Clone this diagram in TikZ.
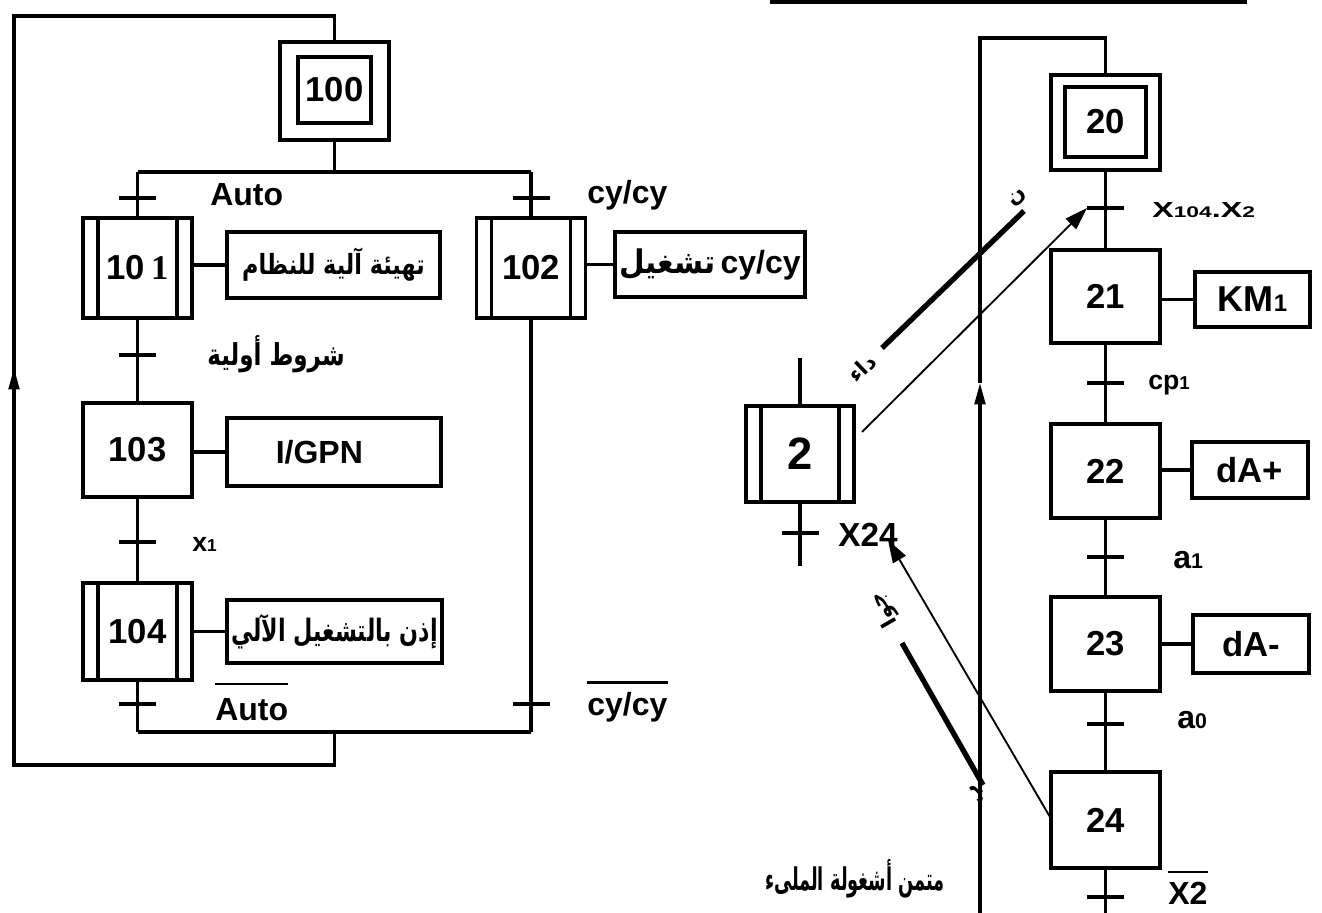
\documentclass[tikz,border=0pt]{standalone}
\usepackage{fontspec}
\usepackage{graphicx}
\setmainfont{Liberation Sans}
\newfontfamily\arabicfont[Script=Arabic]{DejaVu Sans}
\newfontfamily\tnr{Liberation Serif}
\TeXXeTstate=1
\usetikzlibrary{arrows.meta}
\newcommand\ar[1]{{\arabicfont\bfseries\beginR #1\endR}}
\newcommand\fs[1]{\fontsize{#1}{#1}\selectfont}
\newcommand\sbx[2]{{\fs{#1}#2}}
\tikzset{
  ln/.style={line width=2.3pt},
  thin arrow/.style={line width=1.4pt,-{Triangle[length=17pt,width=11pt]}},
  loop arrow/.style={line width=2.3pt,-{Triangle[length=16pt,width=8pt]}},
  thickbar/.style={line width=4pt},
  stepbox/.style={draw, line width=2.3pt, minimum width=81.75pt, minimum height=70.5pt, inner sep=0pt, font=\bfseries\fs{26}},
  macrostep/.style={stepbox, minimum height=75pt,
    path picture={
      \draw[line width=2.3pt] ([xshift=11.25pt]path picture bounding box.north west) -- ([xshift=11.25pt]path picture bounding box.south west);
      \draw[line width=2.3pt] ([xshift=-11.25pt]path picture bounding box.north east) -- ([xshift=-11.25pt]path picture bounding box.south east);
    }},
  actbox/.style={draw, line width=2.3pt, inner sep=0pt, font=\bfseries\fs{24}},
  lbl/.style={anchor=west, inner sep=0pt, font=\bfseries\fs{24}},
  clbl/.style={inner sep=0pt, font=\bfseries\fs{24}},
  frag/.style={inner sep=0pt, font=\fs{16}},
}
\begin{document}
\begin{tikzpicture}[x=0.75pt,y=-0.75pt]
\useasboundingbox (0,0) rectangle (1322,913);

% ================= LEFT GRAFCET =================
\node[stepbox, minimum height=73.5pt] (s100) at (334.5,91) {};
\node[draw, line width=2.3pt, minimum width=54.75pt, minimum height=49.5pt, inner sep=0pt, font=\bfseries\fs{26}] (s100i) at (334.5,90) {100};

\node[macrostep] (s101) at (137.5,268) {10\,{\tnr\bfseries 1}};
\node[macrostep] (s102) at (531,268) {102};
\node[stepbox] (s103) at (137.5,450) {103};
\node[macrostep, minimum height=72.75pt] (s104) at (137.5,631.5) {104};

% actions
\node[actbox, minimum width=159.75pt, minimum height=49.5pt] (a101) at (333.5,265) {\resizebox*{137pt}{25pt}{\ar{تهيئة آلية للنظام}}};
\node[actbox, minimum width=142.5pt, minimum height=48.75pt] (a102) at (710,264.5) {\resizebox*{72pt}{23pt}{\ar{تشغيل}}\,cy/cy};
\node[actbox, minimum width=160.5pt, minimum height=51pt] (a103) at (334,452) {\hspace*{-22pt}I/GPN};
\node[actbox, minimum width=161.25pt, minimum height=47.25pt] (a104) at (334.5,631.5) {\resizebox*{155pt}{26pt}{\ar{إذن بالتشغيل الآلي}}};
\draw[ln] (s101.east |- a101.west) -- (a101.west);
\draw[ln] (s102.east |- a102.west) -- (a102.west);
\draw[ln] (s103.east |- a103.west) -- (a103.west);
\draw[ln] (s104.east |- a104.west) -- (a104.west);

% divergence / convergence
\coordinate (dvL) at (137.5,172);
\coordinate (dvM) at (334.5,172);
\coordinate (dvR) at (531,172);
\coordinate (cvL) at (137.5,732);
\coordinate (cvM) at (334.5,732);
\coordinate (cvR) at (531,732);
\draw[ln] (s100.south) -- (dvM);
\draw[ln] (dvL) -- (dvR);
\draw[ln] (dvL) -- (s101.north);
\draw[ln] (dvR) -- (s102.north);
\draw[ln] (s101.south) -- (s103.north);
\draw[ln] (s103.south) -- (s104.north);
\draw[ln] (s104.south) -- (cvL);
\draw[ln] (s102.south) -- (cvR);
\draw[ln] (cvL) -- (cvR);

% outer loop
\coordinate (lpB) at (334.5,765);
\coordinate (lpBL) at (14,765);
\coordinate (lpArr) at (14,368);
\coordinate (lpTL) at (14,16);
\coordinate (lpTR) at (334.5,16);
\draw[ln] (cvM) -- (lpB) -- (lpBL) -- (lpArr);
\draw[loop arrow] (lpBL) -- (lpArr);
\draw[ln] (lpArr) -- (lpTL) -- (lpTR) -- (s100.north);

% transitions (ticks)
\foreach \n/\x/\y in {t1/137.5/198, t2/137.5/355, t3/137.5/542, t4/137.5/704, t5/531/198, t6/531/704}{
  \coordinate (\n a) at (\x-18.5,\y);
  \coordinate (\n b) at (\x+18.5,\y);
  \draw[ln] (\n a) -- (\n b);
}
\node[lbl] (l1) at (210,195) {Auto};
\node[clbl] (l2) at (276,354) {\resizebox*{103pt}{28pt}{\ar{شروط أولية}}};
\node[lbl, font=\bfseries\fs{20}] (l3) at (192,544) {x\sbx{13}{1}};
\node[lbl] (l4) at (215,710) {Auto};
\draw[line width=1.8pt] ([yshift=11pt]l4.north west) -- ([yshift=11pt]l4.north east);
\node[lbl] (l5) at (587,195) {cy/cy};
\node[lbl] (l6) at (587,707) {cy/cy};
\draw[line width=1.8pt] ([yshift=7pt]l6.north west) -- ([yshift=7pt]l6.north east);

% ================= RIGHT GRAFCET =================
\coordinate (topA) at (770,2);
\coordinate (topB) at (1247,2);
\draw[line width=2.5pt] (topA) -- (topB);

\node[stepbox, minimum height=71.25pt] (s20) at (1105.5,122.5) {};
\node[draw, line width=2.3pt, minimum width=60.75pt, minimum height=52.5pt, inner sep=0pt, font=\bfseries\fs{26}] (s20i) at (1105.5,122) {20};
\node[stepbox, minimum height=69.75pt] (s21) at (1105.5,296.5) {21};
\node[stepbox] (s22) at (1105.5,471) {22};
\node[stepbox] (s23) at (1105.5,644) {23};
\node[stepbox, minimum height=72pt] (s24) at (1105.5,820) {24};

\node[actbox, minimum width=86.25pt, minimum height=41.25pt, font=\bfseries\fs{27}] (a21) at (1252.5,299.5) {KM\sbx{18}{1}};
\node[actbox, minimum width=87pt, minimum height=42pt, font=\bfseries\fs{26}] (a22) at (1250,470) {dA+};
\node[actbox, minimum width=87pt, minimum height=43.5pt, font=\bfseries\fs{26}] (a23) at (1251,644) {dA-};
\draw[ln] (s21.east |- a21.west) -- (a21.west);
\draw[ln] (s22.east |- a22.west) -- (a22.west);
\draw[ln] (s23.east |- a23.west) -- (a23.west);

\coordinate (endR) at (1105.5,913);
\draw[ln] (s20.south) -- (s21.north);
\draw[ln] (s21.south) -- (s22.north);
\draw[ln] (s22.south) -- (s23.north);
\draw[ln] (s23.south) -- (s24.north);
\draw[ln] (s24.south) -- (endR);

% loop on right
\coordinate (rpTR) at (1105.5,38);
\coordinate (rpTL) at (980,38);
\coordinate (rpArr) at (980,383);
\coordinate (rpB) at (980,913);
\draw[ln] (s20.north) -- (rpTR) -- (rpTL) -- (rpArr);
\draw[loop arrow] (rpB) -- (rpArr);

\foreach \n/\y in {r1/208, r2/383, r3/557, r4/724, r5/897}{
  \coordinate (\n a) at (1087,\y);
  \coordinate (\n b) at (1124,\y);
  \draw[ln] (\n a) -- (\n b);
}
\node[lbl] (m1) at (1152,210) {\resizebox{77pt}{11.25pt}{\bfseries X\sbx{17}{104}.X\sbx{17}{2}}};
\node[lbl, font=\bfseries\fs{20}] (m2) at (1148,385) {cp\sbx{14}{1}};
\node[lbl, font=\bfseries\fs{24}] (m3) at (1173,560) {a\sbx{16}{1}};
\node[lbl, font=\bfseries\fs{24}] (m4) at (1177,720) {a\sbx{16}{0}};
\node[lbl] (m5) at (1168,893) {X2};
\draw[line width=1.8pt] ([yshift=7pt]m5.north west) -- ([yshift=7pt]m5.north east);

% step 2 (macro)
\node[macrostep, minimum width=81pt, minimum height=72pt, font=\bfseries\fs{34}] (s2) at (800,454) {2};
\coordinate (s2top) at (800,358);
\coordinate (s2bot) at (800,566);
\draw[ln] (s2top) -- (s2.north);
\draw[ln] (s2.south) -- (s2bot);
\coordinate (q1a) at (782,533);
\coordinate (q1b) at (819,533);
\draw[ln] (q1a) -- (q1b);
\node[lbl, font=\bfseries\fs{25}] (x24) at (838,535) {X24};

% request / answer links
\coordinate (rq0) at (862,432);
\coordinate (an0) at (1050,817);
\coordinate (an1) at (888,540);
\draw[thin arrow] (rq0) -- (r1a);
\draw[thin arrow] (an0) -- (an1);

\coordinate (b1a) at (882,348);
\coordinate (b1b) at (1024,211);
\draw[thickbar] (b1a) -- (b1b);
\node[frag, rotate=44] (w1a) at (1018,198) {\ar{ن}};
\node[frag, rotate=44] (w1b) at (862,368) {\ar{داء}};

\coordinate (b2a) at (902,643);
\coordinate (b2b) at (983,785);
\draw[thickbar] (b2a) -- (b2b);
\node[frag, rotate=120] (w2a) at (884,610) {\ar{جوا}};
\node[frag, rotate=120] (w2b) at (978,793) {\ar{ب}};

% bottom caption
\node[inner sep=0pt] (cap) at (855,879) {\resizebox*{135pt}{29pt}{\ar{متمن أشغولة الملىء}}};
\end{tikzpicture}
\end{document}
